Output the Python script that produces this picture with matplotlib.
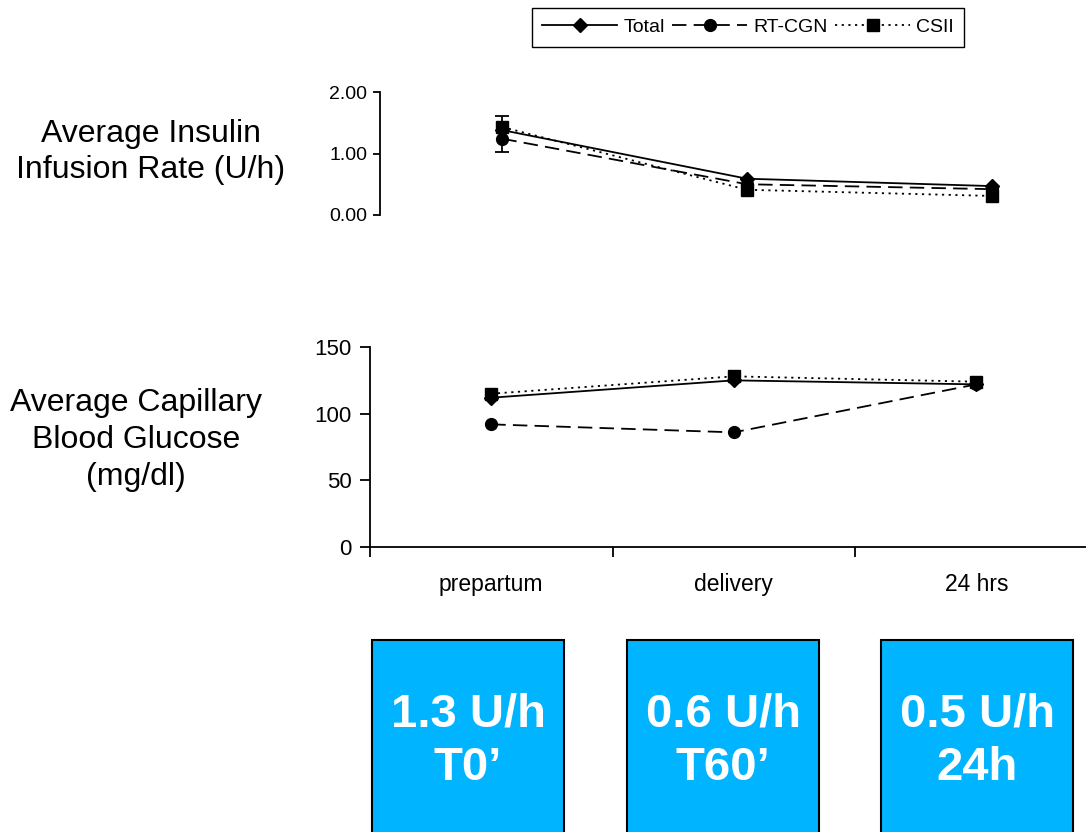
import matplotlib
matplotlib.use("Agg")
import matplotlib.pyplot as plt
from matplotlib.patches import Rectangle

plt.rcParams['font.family'] = ['Liberation Sans', 'DejaVu Sans']

categories = ['prepartum', 'delivery', '24 hrs']
series_names = ['Total', 'RT-CGN', 'CSII']

# insulin infusion rate (U/h)
insulin_total = [1.38, 0.59, 0.47]
insulin_rtcgn = [1.24, 0.50, 0.42]
insulin_csii = [1.43, 0.41, 0.31]
insulin_err_low = [0.35, 0, 0]
insulin_err_high = [0.23, 0, 0]

# capillary blood glucose (mg/dl)
glucose_total = [112, 125, 122]
glucose_rtcgn = [92, 86, 122]
glucose_csii = [115, 128, 124]

box_texts = ['1.3 U/h\nT0\u2019', '0.6 U/h\nT60\u2019', '0.5 U/h\n24h']

styles = [
    dict(color='black', linestyle='-', marker='D', markersize=7.5),
    dict(color='black', linestyle=(0, (8, 4)), marker='o', markersize=8.5),
    dict(color='black', linestyle=(0, (1.2, 2.5)), marker='s', markersize=8),
]

fig = plt.figure(figsize=(10.86, 8.32), dpi=100)

x = list(range(len(categories)))

# upper panel
ax1 = fig.add_axes([0.3499, 0.7416, 0.676, 0.1478])
lines = []
for vals, st, name in zip([insulin_total, insulin_rtcgn, insulin_csii], styles, series_names):
    ln, = ax1.plot(x, vals, linewidth=1.3, label=name, **st)
    lines.append(ln)
ax1.errorbar(x, insulin_total, yerr=[insulin_err_low, insulin_err_high], fmt='none',
             ecolor='black', elinewidth=1.3, capsize=5, capthick=1.3)
ax1.set_xlim(-0.5, 2.5)
ax1.set_ylim(0, 2)
ax1.set_yticks([0, 1, 2])
ax1.set_yticklabels(['0.00', '1.00', '2.00'])
ax1.set_xticks([])
for s in ['top', 'right', 'bottom']:
    ax1.spines[s].set_visible(False)
ax1.spines['left'].set_linewidth(1.3)
ax1.tick_params(axis='y', direction='out', length=5, width=1.3, labelsize=14, pad=4)
ax1.patch.set_alpha(0)

# lower panel
ax2 = fig.add_axes([0.3407, 0.3425, 0.6699, 0.2404])
for vals, st, name in zip([glucose_total, glucose_rtcgn, glucose_csii], styles, series_names):
    ax2.plot(x, vals, linewidth=1.3, **st)
ax2.set_xlim(-0.5, 2.5)
ax2.set_ylim(0, 150)
ax2.set_yticks([0, 50, 100, 150])
ax2.set_xticks([-0.5, 0.5, 1.5, 2.5])
ax2.set_xticklabels([])
ax2.set_xticks(x, minor=True)
ax2.set_xticklabels(categories, minor=True)
for s in ['top', 'right']:
    ax2.spines[s].set_visible(False)
ax2.spines['left'].set_linewidth(1.3)
ax2.spines['bottom'].set_linewidth(1.3)
ax2.tick_params(axis='y', direction='out', length=7, width=1.3, labelsize=16, pad=6)
ax2.tick_params(axis='x', which='major', direction='out', length=7, width=1.3)
ax2.tick_params(axis='x', which='minor', length=0, labelsize=16.5, pad=19)
ax2.patch.set_alpha(0)

# panel labels
fig.text(151 / 1086, 1 - 152 / 832, 'Average Insulin\nInfusion Rate (U/h)', ha='center', va='center',
         fontsize=23, linespacing=1.3)
fig.text(136 / 1086, 1 - 440 / 832, 'Average Capillary\nBlood Glucose\n(mg/dl)', ha='center', va='center',
         fontsize=23, linespacing=1.3)

# legend
fig.legend(handles=lines, loc='center', bbox_to_anchor=(748 / 1086, 1 - 27.5 / 832), ncol=3,
           fontsize=14, handlelength=3.85, handletextpad=0.3, columnspacing=0.4, borderpad=0.55,
           fancybox=False, edgecolor='black', framealpha=1)

# blue boxes
box_lefts = [372, 627, 881]
for left, txt in zip(box_lefts, box_texts):
    rect = Rectangle((left / 1086, -0.05), 192 / 1086, 0.05 + 1 - 640 / 832, transform=fig.transFigure,
                     facecolor='#00B4FF', edgecolor='black', linewidth=1.5)
    fig.patches.append(rect)
    fig.text((left + 96) / 1086, 1 - 741 / 832, txt, ha='center', va='center', color='white',
             fontsize=34, fontweight='bold', linespacing=1.28)

fig.savefig('out.png', dpi=100)
